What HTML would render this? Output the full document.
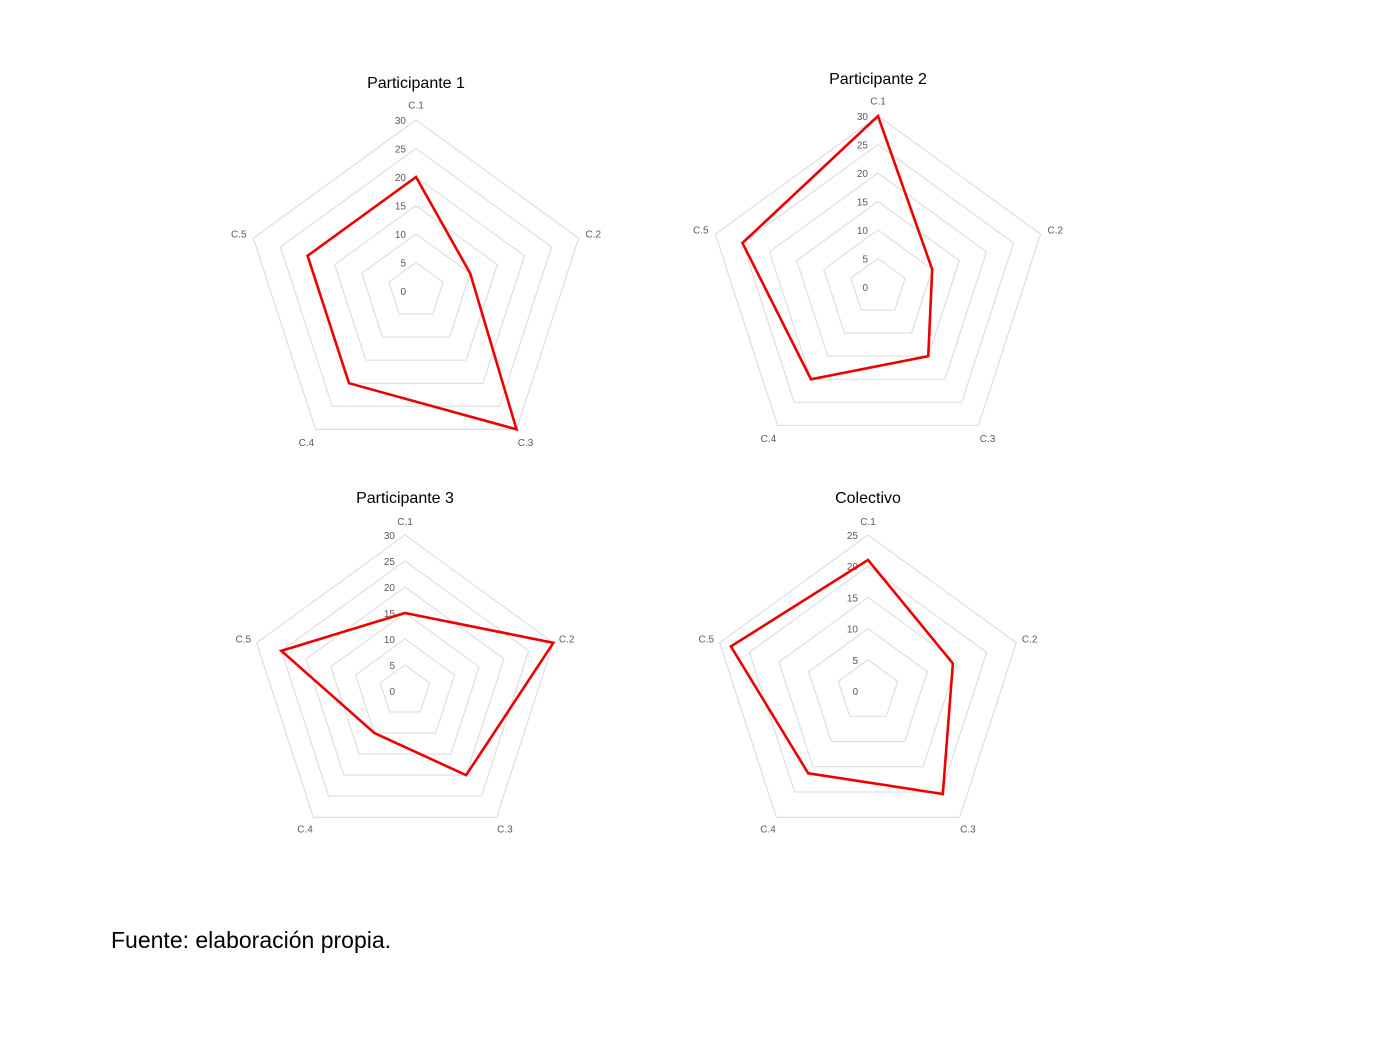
<!DOCTYPE html>
<html><head><meta charset="utf-8">
<style>
body{margin:0;background:#fff;width:1387px;height:1040px;overflow:hidden;font-family:"Liberation Sans",sans-serif}
svg{position:absolute;left:0;top:0}
</style></head><body>
<svg id="s" width="1387" height="1040">
<text x="111" y="948" font-size="23" fill="#000">Fuente: elaboración propia.</text>
</svg>
<script>
const categories = ["C.1","C.2","C.3","C.4","C.5"];
const p1Values = [20,10,30,20,20];
const p2Values = [30,10,15,20,25];
const p3Values = [15,30,20,10,25];
const colValues = [21,14.3,20.4,16.3,23.1];
const p1Ticks = [0,5,10,15,20,25,30];
const p2Ticks = [0,5,10,15,20,25,30];
const p3Ticks = [0,5,10,15,20,25,30];
const colTicks = [0,5,10,15,20,25];
const charts = [
 {title:"Participante 1", cx:416, cy:291, r:171, vals:p1Values, ticks:p1Ticks, ty:82},
 {title:"Participante 2", cx:878, cy:287, r:171, vals:p2Values, ticks:p2Ticks, ty:78},
 {title:"Participante 3", cx:405, cy:691, r:156, vals:p3Values, ticks:p3Ticks, ty:497},
 {title:"Colectivo", cx:868, cy:691, r:156, vals:colValues, ticks:colTicks, ty:497}
];
const NS="http://www.w3.org/2000/svg";
const svg=document.getElementById('s');
function mk(t,a){const e=document.createElementNS(NS,t);for(const k in a)e.setAttribute(k,a[k]);return e;}
charts.forEach((c,ci)=>{
  const max=c.ticks[c.ticks.length-1];
  const pt=(i,v)=>{const a=i*2*Math.PI/5;const rr=c.r*v/max;return [c.cx+rr*Math.sin(a),c.cy-rr*Math.cos(a)];};
  const g=mk('g',{});
  
  
  svg.appendChild(g);
  c.ticks.forEach(t=>{
    if(t>0){const p=mk('polygon',{points:categories.map((_,i)=>pt(i,t).join(',')).join(' '),fill:'none',stroke:'#d9d9d9','stroke-width':1});
    
    
    g.appendChild(p);}
    const [x,y]=pt(0,t);
    const tx=mk('text',{x:x-10,y:y+4,'font-size':10,fill:'#595959','text-anchor':'end'});
    
    
    tx.textContent=t;g.appendChild(tx);
  });
  categories.forEach((cat,i)=>{
    const [x,y]=pt(i,max*1.09);
    const tx=mk('text',{x:x,y:y+4,'font-size':10,fill:'#595959','text-anchor':'middle'});
    
    
    tx.textContent=cat;g.appendChild(tx);
  });
  const poly=mk('polygon',{points:c.vals.map((v,i)=>pt(i,v).join(',')).join(' '),fill:'none',stroke:'#ee0000','stroke-width':2.6,'stroke-linejoin':'miter'});
  
  
  g.appendChild(poly);
  const tt=mk('text',{x:c.cx,y:c.ty+6,'font-size':16,fill:'#000','text-anchor':'middle'});
  
  
  tt.textContent=c.title;g.appendChild(tt);
});
</script>
</body></html>
